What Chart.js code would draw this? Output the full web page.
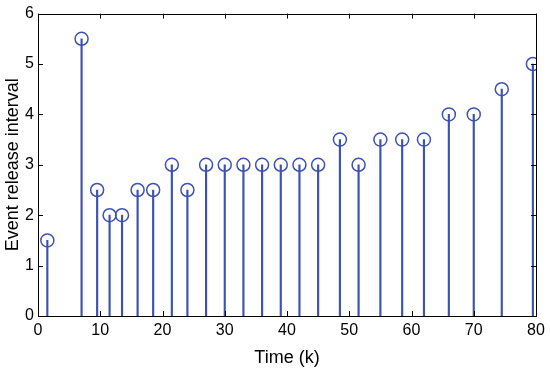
<!DOCTYPE html>
<html>
<head>
<meta charset="utf-8">
<script src="https://cdn.jsdelivr.net/npm/chart.js@4/dist/chart.umd.min.js"></script>
<style>
  html, body { margin: 0; padding: 0; background: #fff; }
  canvas { display: block; }
</style>
</head>
<body>
<canvas id="stemChart" width="550" height="374"></canvas>
<script>
// datos
const releaseTimes = [1.5, 7, 9.5, 11.5, 13.5, 16, 18.5, 21.5, 24, 27, 30, 33, 36, 39, 42, 45, 48.5, 51.5, 55, 58.5, 62, 66, 70, 74.5, 79.5];
const releaseIntervals = [1.5, 5.5, 2.5, 2, 2, 2.5, 2.5, 3, 2.5, 3, 3, 3, 3, 3, 3, 3, 3.5, 3, 3.5, 3.5, 3.5, 4, 4, 4.5, 5];
const xTicks = [0, 10, 20, 30, 40, 50, 60, 70, 80];
const yTicks = [0, 1, 2, 3, 4, 5, 6];

const stemColor = '#3d52b3';
const points = releaseTimes.map((t, i) => ({ x: t, y: releaseIntervals[i] }));

// caja del eje con marcas hacia dentro (estilo MATLAB)
const boxPlugin = {
    id: 'matlabBox',
    afterDraw(chart) {
        const { ctx, chartArea: a, scales } = chart;
        const len = 5;
        ctx.save();
        ctx.strokeStyle = '#000';
        ctx.lineWidth = 1;
        ctx.beginPath();
        xTicks.forEach(v => {
            const px = Math.round(scales.x.getPixelForValue(v)) + 0.5;
            ctx.moveTo(px, a.bottom); ctx.lineTo(px, a.bottom - len);
            ctx.moveTo(px, a.top); ctx.lineTo(px, a.top + len);
        });
        yTicks.forEach(v => {
            const py = Math.round(scales.y.getPixelForValue(v)) + 0.5;
            ctx.moveTo(a.left, py); ctx.lineTo(a.left + len, py);
            ctx.moveTo(a.right, py); ctx.lineTo(a.right - len, py);
        });
        ctx.stroke();
        ctx.strokeRect(Math.round(a.left) + 0.5, Math.round(a.top) + 0.5,
            Math.round(a.right - a.left), Math.round(a.bottom - a.top));
        ctx.restore();
    }
};

const tickFont = { family: '"Liberation Sans", Arial, sans-serif', size: 16 };
const titleFont = { family: '"Liberation Sans", Arial, sans-serif', size: 18 };

new Chart(document.getElementById('stemChart'), {
    data: {
        datasets: [
            {
                type: 'bar',
                data: points,
                backgroundColor: stemColor,
                barThickness: 1.5,
                order: 2
            },
            {
                type: 'scatter',
                data: points,
                pointStyle: 'circle',
                pointRadius: 6.5,
                pointBorderWidth: 1.5,
                borderColor: stemColor,
                backgroundColor: 'rgba(0,0,0,0)',
                order: 1
            }
        ]
    },
    options: {
        responsive: false,
        animation: false,
        layout: { padding: { top: 11, right: 14, left: 0, bottom: 0 } },
        plugins: {
            legend: { display: false },
            tooltip: { enabled: false }
        },
        scales: {
            x: {
                type: 'linear',
                min: 0,
                max: 80,
                offset: false,
                afterFit: s => { s.height = 58; },
                afterBuildTicks: s => { s.ticks = xTicks.map(v => ({ value: v })); },
                grid: { display: false, drawTicks: false, offset: false },
                border: { display: false },
                ticks: { color: '#000', font: tickFont, padding: 5, maxRotation: 0 },
                title: { display: true, text: 'Time (k)', color: '#000', font: titleFont, padding: { top: 0, bottom: 5 } }
            },
            y: {
                type: 'linear',
                min: 0,
                max: 6,
                afterFit: s => { s.width = 38; },
                afterBuildTicks: s => { s.ticks = yTicks.map(v => ({ value: v })); },
                grid: { display: false, drawTicks: false },
                border: { display: false },
                ticks: { color: '#000', font: tickFont, padding: 4 },
                title: { display: true, text: 'Event release interval', color: '#000', font: titleFont, padding: { top: 2, bottom: 0 } }
            }
        }
    },
    plugins: [boxPlugin]
});
</script>
</body>
</html>
